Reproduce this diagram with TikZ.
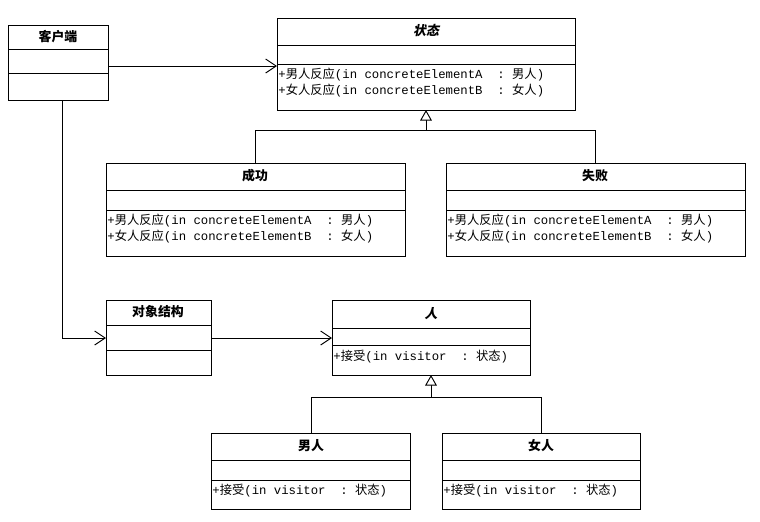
\documentclass[tikz,border=0pt]{standalone}
\usepackage{fontspec}
\newfontfamily\mono{Liberation Mono}
\newfontfamily\cjf{Noto Sans CJK SC}
\newfontfamily\cjs{Noto Sans CJK SC}[FakeSlant=0.2]
\newcommand{\cj}[1]{{\cjf #1}}
\usetikzlibrary{arrows.meta}
\begin{document}
\begin{tikzpicture}[x=0.03cm,y=-0.03cm,
  ln/.style={draw=black,line width=0.8pt},
  asc/.style={ln,-{Straight Barb[length=9pt,width=12pt]}},
  gen/.style={ln,-{Triangle[open,length=9pt,width=10pt,fill=white]}},
  ttl/.style={font=\fontsize{11}{13}\selectfont\cjf\bfseries},
  att/.style={font=\fontsize{10.5}{13.5}\selectfont\mono,align=left,anchor=north west,inner sep=1pt}]
\useasboundingbox (0,0) rectangle (760,521);
% class boxes
\draw[ln] (8,25) rectangle (108,100); \draw[ln] (8,49)--(108,49); \draw[ln] (8,73)--(108,73);
\node[ttl] (kh) at (58,37) {客户端};
\draw[ln] (277,18) rectangle (575,110); \draw[ln] (277,45)--(575,45); \draw[ln] (277,64)--(575,64);
\node[ttl,font=\fontsize{11}{13}\selectfont\cjs\bfseries] (zt) at (426,31) {状态};
\node[att] (zta) at (277,67) {+\cj{男人反应}(in concreteElementA\ \ :\ \cj{男人})\\+\cj{女人反应}(in concreteElementB\ \ :\ \cj{女人})};
\draw[ln] (106,163) rectangle (405,256); \draw[ln] (106,190)--(405,190); \draw[ln] (106,210)--(405,210);
\node[ttl] (cg) at (255,176) {成功};
\node[att] (cga) at (106,213) {+\cj{男人反应}(in concreteElementA\ \ :\ \cj{男人})\\+\cj{女人反应}(in concreteElementB\ \ :\ \cj{女人})};
\draw[ln] (446,163) rectangle (745,256); \draw[ln] (446,190)--(745,190); \draw[ln] (446,210)--(745,210);
\node[ttl] (sb) at (595,176) {失败};
\node[att] (sba) at (446,213) {+\cj{男人反应}(in concreteElementA\ \ :\ \cj{男人})\\+\cj{女人反应}(in concreteElementB\ \ :\ \cj{女人})};
\draw[ln] (106,300) rectangle (211,375); \draw[ln] (106,325)--(211,325); \draw[ln] (106,350)--(211,350);
\node[ttl] (dx) at (158,312) {对象结构};
\draw[ln] (332,300) rectangle (530,375); \draw[ln] (332,328)--(530,328); \draw[ln] (332,345)--(530,345);
\node[ttl,font=\fontsize{11}{13}\selectfont\cjs\bfseries] (r) at (431,314) {人};
\node[att] (ra) at (332,349) {+\cj{接受}(in visitor\ \ :\ \cj{状态})};
\draw[ln] (211,433) rectangle (410,509); \draw[ln] (211,460)--(410,460); \draw[ln] (211,480)--(410,480);
\node[ttl] (nr) at (311,446) {男人};
\node[att] (nra) at (211,483) {+\cj{接受}(in visitor\ \ :\ \cj{状态})};
\draw[ln] (442,433) rectangle (640,509); \draw[ln] (442,460)--(640,460); \draw[ln] (442,480)--(640,480);
\node[ttl] (nv) at (541,446) {女人};
\node[att] (nva) at (442,483) {+\cj{接受}(in visitor\ \ :\ \cj{状态})};
% anchors
\coordinate (khR) at (108,66); \coordinate (ztL) at (277,66);
\coordinate (khB) at (62,100); \coordinate (dxL) at (106,338);
\coordinate (dxR) at (211,338); \coordinate (rL) at (332,338);
\coordinate (ztB) at (426,110); \coordinate (cgT) at (255,163); \coordinate (sbT) at (595,163);
\coordinate (rB) at (431,375); \coordinate (nrT) at (311,433); \coordinate (nvT) at (541,433);
\draw[asc] (khR) -- (ztL);
\draw[asc] (khB) |- (dxL);
\draw[asc] (dxR) -- (rL);
\draw[ln] (cgT) |- (595,130) -- (sbT);
\draw[gen] (426,130) -- (ztB);
\draw[ln] (nrT) |- (541,397) -- (nvT);
\draw[gen] (431,397) -- (rB);
\end{tikzpicture}
\end{document}
